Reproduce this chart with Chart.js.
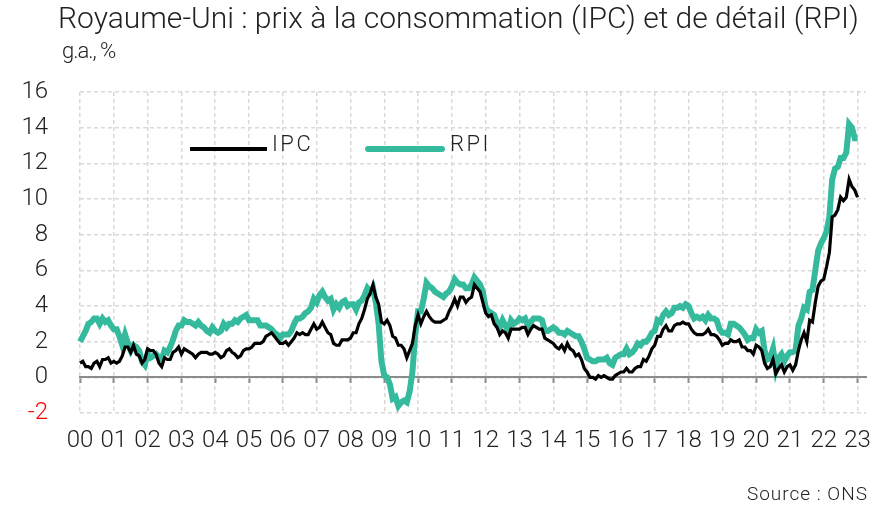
<!DOCTYPE html>
<html>
<head>
<meta charset="utf-8">
<script src="https://cdn.jsdelivr.net/npm/chart.js@4/dist/chart.umd.min.js"></script>
<style>
  body { margin: 0; background: #fff; }
  #wrap { position: relative; width: 880px; height: 509px; font-family: Roboto, sans-serif; font-weight: 300; color: #222; }
  #wrap canvas { position: absolute; left: 0; top: 0; }
  .txt { position: absolute; white-space: nowrap; }
  #title { left: 58px; top: 0px; font-size: 30px; letter-spacing: 0px; }
  #unit { left: 62px; top: 38px; font-size: 22px; letter-spacing: -1px; }
  #source { right: 12px; top: 482px; font-size: 19px; letter-spacing: 1px; }
  .lg-line { position: absolute; }
  .lg-txt { position: absolute; font-size: 22px; letter-spacing: 2.5px; top: 131px; }
</style>
</head>
<body>
<div id="wrap">
  <canvas id="myChart" width="880" height="509"></canvas>
  <div class="txt" id="title">Royaume-Uni : prix à la consommation (IPC) et de détail (RPI)</div>
  <div class="txt" id="unit">g.a., %</div>
  <div class="lg-line" style="left:190px;top:147px;width:77px;height:4px;background:#000;"></div>
  <div class="lg-txt" style="left:272px;">IPC</div>
  <div class="lg-line" style="left:365px;top:146px;width:80px;height:6px;border-radius:3px;background:#35ba9e;"></div>
  <div class="lg-txt" style="left:450px;">RPI</div>
  <div class="txt" id="source">Source : ONS</div>
</div>
<script>
// monthly, jan 2000 -> jan 2023, y/y %
var ipc = [
  0.8, 0.9, 0.6, 0.6, 0.5, 0.8, 0.9, 0.6, 1.0, 1.0, 1.1, 0.8,
  0.9, 0.8, 0.9, 1.2, 1.7, 1.7, 1.4, 1.8, 1.3, 1.2, 0.8, 1.0,
  1.6, 1.5, 1.5, 1.3, 0.8, 0.6, 1.1, 1.0, 1.0, 1.4, 1.5, 1.7,
  1.3, 1.6, 1.5, 1.4, 1.3, 1.1, 1.3, 1.4, 1.4, 1.4, 1.3, 1.3,
  1.4, 1.3, 1.1, 1.2, 1.5, 1.6, 1.4, 1.3, 1.1, 1.2, 1.5, 1.6,
  1.6, 1.7, 1.9, 1.9, 1.9, 2.0, 2.3, 2.4, 2.5, 2.3, 2.1, 1.9,
  1.9, 2.0, 1.8, 2.0, 2.2, 2.5, 2.4, 2.5, 2.4, 2.4, 2.7, 3.0,
  2.7, 2.8, 3.1, 2.8, 2.5, 2.4, 1.9, 1.8, 1.8, 2.1, 2.1, 2.1,
  2.2, 2.5, 2.5, 3.0, 3.3, 3.8, 4.4, 4.7, 5.2, 4.5, 4.1, 3.1,
  3.0, 3.2, 2.9, 2.3, 2.2, 1.8, 1.8, 1.6, 1.1, 1.5, 1.9, 2.9,
  3.5, 3.0, 3.4, 3.7, 3.4, 3.2, 3.1, 3.1, 3.1, 3.2, 3.3, 3.7,
  4.0, 4.4, 4.0, 4.5, 4.5, 4.2, 4.4, 4.5, 5.2, 5.0, 4.8, 4.2,
  3.6, 3.4, 3.5, 3.0, 2.8, 2.4, 2.6, 2.5, 2.2, 2.7, 2.7, 2.7,
  2.7, 2.8, 2.8, 2.4, 2.7, 2.9, 2.8, 2.7, 2.7, 2.2, 2.1, 2.0,
  1.9, 1.7, 1.6, 1.8, 1.5, 1.9, 1.6, 1.5, 1.2, 1.3, 1.0, 0.5,
  0.3, 0.0, 0.0, -0.1, 0.1, 0.0, 0.1, 0.0, -0.1, -0.1, 0.1, 0.2,
  0.3, 0.3, 0.5, 0.3, 0.3, 0.5, 0.6, 0.6, 1.0, 0.9, 1.2, 1.6,
  1.8, 2.3, 2.3, 2.7, 2.9, 2.6, 2.6, 2.9, 3.0, 3.0, 3.1, 3.0,
  3.0, 2.7, 2.5, 2.4, 2.4, 2.4, 2.5, 2.7, 2.4, 2.4, 2.3, 2.1,
  1.8, 1.9, 1.9, 2.1, 2.0, 2.0, 2.1, 1.7, 1.7, 1.5, 1.5, 1.3,
  1.8, 1.7, 1.5, 0.8, 0.5, 0.6, 1.0, 0.2, 0.5, 0.7, 0.3, 0.6,
  0.7, 0.4, 0.7, 1.5, 2.1, 2.5, 2.0, 3.2, 3.1, 4.2, 5.1, 5.4,
  5.5, 6.2, 7.0, 9.0, 9.1, 9.4, 10.1, 9.9, 10.1, 11.1, 10.7, 10.5,
  10.1
];
var rpi = [
  2.0, 2.3, 2.6, 3.0, 3.1, 3.3, 3.3, 3.0, 3.3, 3.1, 3.2, 2.9,
  2.7, 2.7, 2.3, 1.8, 2.4, 1.9, 1.5, 1.8, 1.7, 1.5, 0.9, 0.7,
  1.3, 1.1, 1.2, 1.3, 1.1, 1.0, 1.5, 1.4, 1.7, 2.1, 2.6, 2.9,
  2.9, 3.2, 3.1, 3.1, 3.0, 2.9, 3.1, 2.9, 2.8, 2.6, 2.5, 2.8,
  2.6, 2.5, 2.6, 3.0, 2.8, 3.0, 3.0, 3.2, 3.1, 3.3, 3.4, 3.5,
  3.2, 3.2, 3.2, 3.2, 2.9, 2.9, 2.9, 2.8, 2.7, 2.5, 2.4, 2.2,
  2.4, 2.4, 2.4, 2.6, 3.0, 3.3, 3.3, 3.4, 3.6, 3.7, 3.9, 4.4,
  4.2, 4.6, 4.8, 4.5, 4.3, 4.4, 3.8, 4.1, 3.9, 4.2, 4.3, 4.0,
  4.1, 4.1, 3.8, 4.2, 4.3, 4.6, 5.0, 4.8, 5.0, 4.2, 3.0, 0.9,
  0.1, 0.0, -0.4, -1.2, -1.1, -1.6, -1.4, -1.3, -1.4, -0.8, 0.3, 2.4,
  3.7, 3.7, 4.4, 5.3, 5.1, 5.0, 4.8, 4.7, 4.6, 4.5, 4.7, 4.8,
  5.1, 5.5, 5.3, 5.2, 5.2, 5.0, 5.0, 5.2, 5.6, 5.4, 5.2, 4.8,
  3.9, 3.7, 3.6, 3.5, 3.1, 2.8, 3.2, 2.9, 2.6, 3.2, 3.0, 3.1,
  3.3, 3.2, 3.3, 2.9, 3.1, 3.3, 3.3, 3.3, 3.2, 2.6, 2.6, 2.7,
  2.8, 2.7, 2.5, 2.5, 2.4, 2.6, 2.5, 2.4, 2.3, 2.3, 2.0, 1.6,
  1.1, 1.0, 0.9, 0.9, 1.0, 1.0, 1.0, 1.1, 0.8, 0.7, 1.1, 1.2,
  1.3, 1.3, 1.6, 1.3, 1.4, 1.6, 1.9, 1.8, 2.0, 2.0, 2.2, 2.5,
  2.6, 3.2, 3.1, 3.5, 3.7, 3.5, 3.6, 3.9, 3.9, 4.0, 3.9, 4.1,
  4.0, 3.6, 3.3, 3.4, 3.3, 3.4, 3.2, 3.5, 3.3, 3.3, 3.2, 2.7,
  2.5, 2.5, 2.4, 3.0, 3.0, 2.9, 2.8, 2.6, 2.4, 2.1, 2.2, 2.2,
  2.7, 2.5, 2.6, 1.5, 1.0, 1.1, 1.6, 0.5, 1.1, 1.3, 0.9, 1.2,
  1.4, 1.4, 1.5, 2.9, 3.3, 3.9, 3.8, 4.8, 4.9, 6.0, 7.1, 7.5,
  7.8, 8.2, 9.0, 11.1, 11.7, 11.8, 12.3, 12.3, 12.6, 14.2, 14.0, 13.4,
  13.4
];
var startYear = 2000;
var nbMonths = 280; // axis runs a few months past the last point
var months = [];
for (let i = 0; i < nbMonths; i++) {
    months.push((startYear + Math.floor(i / 12)) + '-' + String(i % 12 + 1).padStart(2, '0'));
}
var yTicks = { min: -2, max: 16, step: 2 };

var gridCol = '#d9d9d9';
var tickFont = { family: 'Roboto', size: 24, weight: 300 };
var isJan = function (c) { return c.index % 12 === 0; };

const ctx = document.getElementById('myChart').getContext('2d');
var myChart = new Chart(ctx, {
    type: 'line',
    data: {
        labels: months,
        datasets: [{
            label: 'IPC',
            data: ipc,
            borderColor: '#000000',
            borderWidth: 3.2,
            pointRadius: 0,
            tension: 0
        }, {
            label: 'RPI',
            data: rpi,
            borderColor: '#35ba9e',
            borderWidth: 6,
            pointRadius: 0,
            tension: 0
        }]
    },
    options: {
        responsive: false,
        animation: false,
        events: [],
        layout: { padding: { top: 92, right: 14, left: 0, bottom: 0 } },
        plugins: { legend: { display: false }, tooltip: { enabled: false } },
        scales: {
            x: {
                ticks: {
                    autoSkip: false, maxRotation: 0, padding: 14, color: '#222', font: tickFont,
                    callback: function (v, i) { return i % 12 === 0 ? months[i].slice(2, 4) : ''; }
                },
                grid: { color: function (c) { return isJan(c) ? gridCol : 'transparent'; }, lineWidth: 1.5, drawTicks: false },
                border: { display: false, dash: [4, 3] },
                afterFit: function (s) { s.height = 96; }
            },
            // zero line with small year ticks
            z: {
                type: 'category',
                axis: 'x',
                position: { y: 0 },
                ticks: { display: false },
                grid: {
                    drawOnChartArea: false, drawTicks: true, tickLength: 5, tickWidth: 2,
                    color: function (c) { return isJan(c) ? '#8c8c8c' : 'transparent'; }
                },
                border: { display: true, color: '#8c8c8c', width: 2 }
            },
            y: {
                min: yTicks.min,
                max: yTicks.max,
                ticks: {
                    stepSize: yTicks.step, padding: 32, font: tickFont,
                    color: function (c) { return c.tick.value < 0 ? '#ff0000' : '#222'; }
                },
                grid: { color: gridCol, lineWidth: 1.5, drawTicks: false },
                border: { display: false, dash: [4, 3] },
                afterFit: function (s) { s.width = 80; }
            }
        }
    }
});
</script>
</body>
</html>
